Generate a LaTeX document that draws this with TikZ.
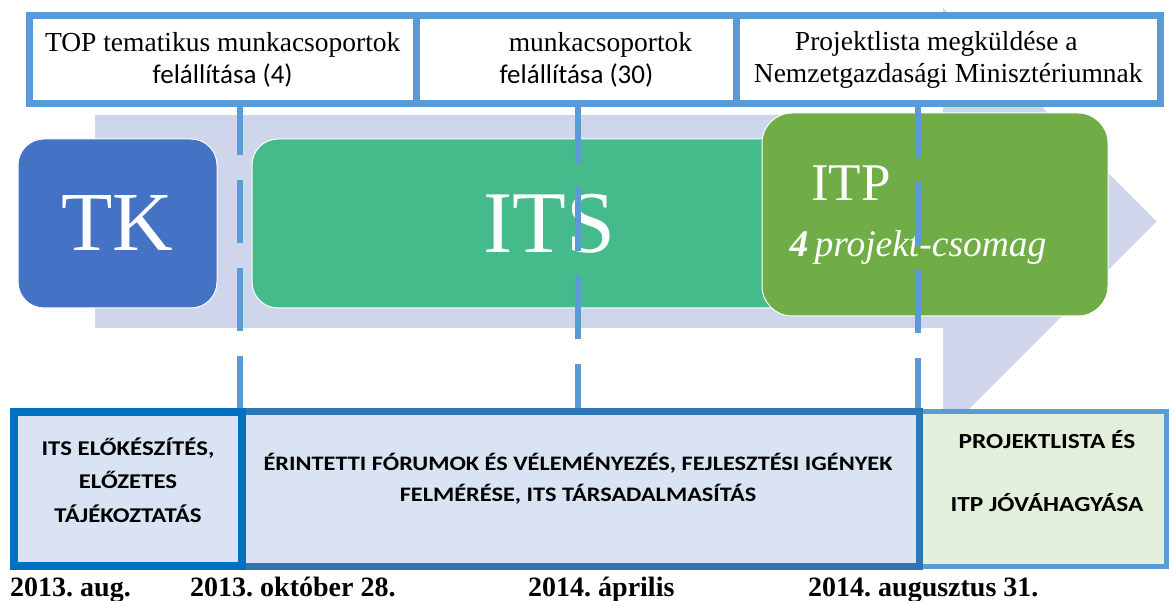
\documentclass[tikz,border=0pt]{standalone}
\usepackage{fontspec}
\setmainfont{Liberation Serif}
\newfontfamily\calfont{Carlito}
\newfontfamily\capsfont[FakeStretch=1.18]{Carlito}
\frenchspacing
\definecolor{frameblue}{HTML}{5B9BD5}
\definecolor{tkblue}{HTML}{4472C4}
\definecolor{itsgreen}{HTML}{45BA8B}
\definecolor{itpgreen}{HTML}{70AD47}
\definecolor{arrowbg}{HTML}{CFD5EA}
\definecolor{boxfill}{HTML}{DAE3F3}
\definecolor{greenfill}{HTML}{E2EFDA}
\definecolor{prepblue}{HTML}{0070C0}
\definecolor{forumblue}{HTML}{2E75B6}
\tikzset{
  topbox/.style={draw=frameblue, line width=7pt, fill=white, inner sep=0pt, minimum height=88pt,
    align=center, font=\fontsize{27.5}{32}\selectfont},
  phase/.style={rounded corners=26pt, draw=white, line width=1pt, inner sep=0pt},
  phasetext/.style={text=white, inner sep=0pt},
  milestone/.style={draw=frameblue, line width=6pt, dash pattern=on 63pt off 25pt},
  lowbox/.style={line width=7pt, inner sep=0pt, minimum height=154pt},
  lowtext/.style={align=center, inner sep=0pt, font=\capsfont\bfseries\fontsize{21}{33.5}\selectfont},
  datetext/.style={anchor=base west, inner sep=0pt, font=\bfseries\fontsize{28}{30}\selectfont}
}
\begin{document}
\begin{tikzpicture}[x=1pt, y=-1pt]
    \useasboundingbox (0,0) rectangle (1170,601);
    % background arrow
    \fill[arrowbg] (95,115) -- (943,115) -- (943,8) -- (1156.5,221.5) -- (943,435) -- (943,328) -- (95,328) -- cycle;

    % phases
    \node[phase, fill=tkblue, minimum width=199pt, minimum height=169pt] (tk) at (117.5,223.5) {};
    \node[phasetext, font=\fontsize{84}{84}\selectfont] (tkname) at (117.5,223.5) {TK};
    \node[phase, fill=itsgreen, minimum width=594pt, minimum height=169pt] (its) at (549,223.5) {};
    \node[phasetext, font=\fontsize{88}{88}\selectfont] (itsname) at (549,223.5) {ITS};
    \node[phase, fill=itpgreen, rounded corners=30pt, minimum width=346pt, minimum height=203pt] (itp) at (935,214.5) {};
    \node[phasetext, font=\fontsize{53}{53}\selectfont] (itpname) at (851,183) {ITP};
    \node[phasetext, font=\fontsize{37.5}{37.5}\selectfont] (itppack) at (918,247) {\textbf{\textit{4}}\,\textit{projekt-csomag}};

    % milestones
    \coordinate (mtop1) at (240,104);
    \coordinate (mbot1) at (240,412);
    \coordinate (mtop2) at (578,104);
    \coordinate (mbot2) at (578,412);
    \coordinate (mtop3) at (918,104);
    \coordinate (mbot3) at (918,412);
    \draw[milestone, dash phase=12pt] (mtop1) -- (mbot1);
    \draw[milestone, dash phase=4pt] (mtop2) -- (mbot2);
    \draw[milestone, dash phase=10pt] (mtop3) -- (mbot3);

    % top boxes
    \node[topbox, minimum width=387.5pt] (top1) at (222.75,60) {TOP tematikus munkacsoportok\\{\calfont\fontsize{27}{32}\selectfont felállítása (4)}};
    \node[topbox, minimum width=320pt] (top2) at (576.5,60) {\hspace*{48pt}munkacsoportok\\{\calfont\fontsize{27}{32}\selectfont felállítása (30)}};
    \node[topbox, minimum width=423.5pt] (top3) at (948.25,60) {Projektlista megküldése a\hspace*{24pt}\\Nemzetgazdasági Minisztériumnak};

    % bottom boxes
    \node[lowbox, draw=frameblue, fill=greenfill, line width=5pt, minimum width=246.5pt] (approve) at (1042.75,489) {};
    \node[lowbox, draw=forumblue, fill=boxfill, minimum width=677.5pt] (forum) at (580.75,489) {};
    \node[lowbox, draw=prepblue, fill=boxfill, line width=8pt, minimum width=228.5pt] (prep) at (127.75,489) {};
    \node[lowtext] (prepnote) at (128,480) {ITS ELŐKÉSZÍTÉS,\\ELŐZETES\\TÁJÉKOZTATÁS};
    \node[lowtext, font=\capsfont\bfseries\fontsize{20.6}{31}\selectfont] (forumnote) at (578,478.5) {ÉRINTETTI FÓRUMOK ÉS VÉLEMÉNYEZÉS, FEJLESZTÉSI IGÉNYEK\\FELMÉRÉSE, ITS TÁRSADALMASÍTÁS};
    \node[lowtext, font=\capsfont\bfseries\fontsize{21.5}{63}\selectfont] (approvenote) at (1047,471.5) {PROJEKTLISTA ÉS\\ITP JÓVÁHAGYÁSA};

    % dates
    \node[datetext] (date1) at (10,596) {2013. aug.};
    \node[datetext] (date2) at (190,596) {2013. október 28.};
    \node[datetext] (date3) at (528,596) {2014. április};
    \node[datetext] (date4) at (808,596) {2014. augusztus 31.};
\end{tikzpicture}
\end{document}
